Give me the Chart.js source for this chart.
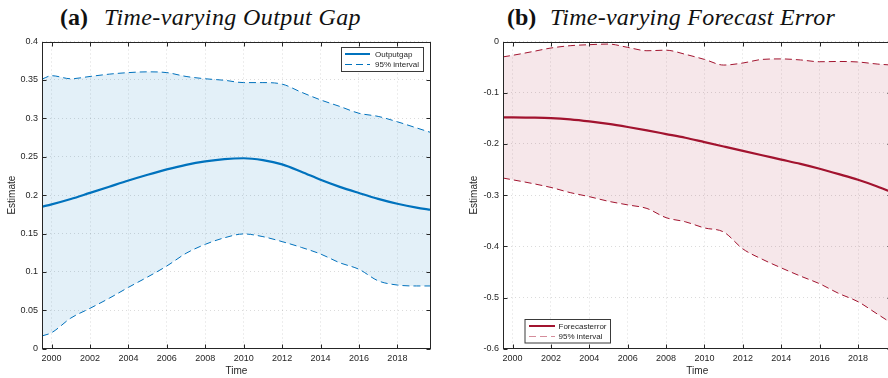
<!DOCTYPE html>
<html>
<head>
<meta charset="utf-8">
<script src="https://cdn.jsdelivr.net/npm/chart.js@4/dist/chart.umd.min.js"></script>
<style>
  html, body { margin: 0; padding: 0; background: #fff; }
  body { position: relative; width: 888px; height: 378px; overflow: hidden; }
  .lbl { position: absolute; top: 5px; font-family: "Liberation Serif", "DejaVu Serif", serif;
         font-size: 24px; line-height: 24px; color: #111; white-space: nowrap; }
  .lbl.b { font-weight: bold; }
  .lbl.i { font-style: italic; }
  canvas { position: absolute; top: 0; }
</style>
</head>
<body>
<div class="lbl b" style="left:60px">(a)</div>
<div class="lbl i" id="titleA" style="left:104px" data-w="257">Time-varying Output Gap</div>
<div class="lbl b" style="left:507px">(b)</div>
<div class="lbl i" id="titleB" style="left:550px" data-w="285">Time-varying Forecast Error</div>
<canvas id="chartA" width="444" height="378" style="left:0"></canvas>
<canvas id="chartB" width="460" height="378" style="left:444px"></canvas>
<script>
// Sample dates (fractional years)
const years = [1999.5, 2000, 2001, 2002, 2003, 2004, 2005, 2006, 2007, 2008, 2009,
               2010, 2011, 2012, 2013, 2014, 2015, 2016, 2017, 2018, 2019, 2019.75];

// Panel (a): output gap estimate and 95% band
const outputGap = [0.185, 0.188, 0.195, 0.203, 0.211, 0.219, 0.2265, 0.2335, 0.2395, 0.2440, 0.2470,
                   0.2480, 0.2455, 0.2400, 0.2305, 0.2200, 0.2108, 0.2028, 0.1952, 0.1888, 0.1838, 0.1810];
const gapUpper  = [0.351, 0.3555, 0.3515, 0.3545, 0.3575, 0.3595, 0.3605, 0.3595, 0.3545, 0.3515, 0.3495,
                   0.3465, 0.3465, 0.3445, 0.3340, 0.3240, 0.3155, 0.3066, 0.3025, 0.2955, 0.2875, 0.2815];
const gapLower  = [0.0167, 0.021, 0.040, 0.0527, 0.0658, 0.080, 0.0935, 0.1078, 0.1243, 0.136, 0.1445,
                   0.1495, 0.146, 0.1395, 0.132, 0.1234, 0.112, 0.1035, 0.0885, 0.083, 0.0818, 0.0818];

// Panel (b): forecast error estimate and 95% band
const forecastError = [-0.148, -0.148, -0.1485, -0.1495, -0.152, -0.156, -0.161, -0.167, -0.1735, -0.1807, -0.188,
                       -0.1965, -0.205, -0.2135, -0.222, -0.2305, -0.239, -0.2485, -0.259, -0.270, -0.283, -0.294];
const errUpper = [-0.030, -0.027, -0.020, -0.0127, -0.0082, -0.0062, -0.005, -0.0115, -0.018, -0.017, -0.025,
                  -0.035, -0.046, -0.042, -0.035, -0.034, -0.036, -0.0395, -0.039, -0.040, -0.044, -0.046];
const errLower = [-0.2666, -0.270, -0.277, -0.285, -0.295, -0.303, -0.312, -0.319, -0.326, -0.344, -0.352,
                  -0.364, -0.372, -0.405, -0.425, -0.442, -0.458, -0.473, -0.492, -0.508, -0.532, -0.550];

// Tick labels
const yearTicks = [2000, 2002, 2004, 2006, 2008, 2010, 2012, 2014, 2016, 2018];
const gapTicks  = [0, 0.05, 0.1, 0.15, 0.2, 0.25, 0.3, 0.35, 0.4];
const errTicks  = [-0.6, -0.5, -0.4, -0.3, -0.2, -0.1, 0];

// Fit the italic titles to their typeset width
document.querySelectorAll('.lbl.i').forEach(el => {
  const target = +el.dataset.w;
  const w = el.getBoundingClientRect().width;
  const n = el.textContent.length;
  el.style.letterSpacing = ((target - w) / n).toFixed(3) + 'px';
});

const INK = '#262626';
const pts = vals => vals.map((v, i) => ({ x: years[i], y: v }));

// Box, inward tick marks, axis titles and legend in MATLAB style
const framePlugin = {
  id: 'frame',
  afterDraw(chart, args, o) {
    const { ctx, chartArea: a, scales: { x, y } } = chart;
    ctx.save();
    ctx.strokeStyle = INK;
    ctx.lineWidth = 1;
    const L = Math.round(a.left) + 0.5, R = Math.round(a.right) - 0.5;
    const T = Math.round(a.top) + 0.5, B = Math.round(a.bottom) - 0.5;
    ctx.strokeRect(L, T, R - L, B - T);
    ctx.beginPath();
    x.ticks.forEach(t => {
      const px = Math.round(x.getPixelForValue(t.value)) + 0.5;
      ctx.moveTo(px, B); ctx.lineTo(px, B - 4);
      ctx.moveTo(px, T); ctx.lineTo(px, T + 4);
    });
    y.ticks.forEach(t => {
      const py = Math.round(y.getPixelForValue(t.value)) + 0.5;
      ctx.moveTo(L, py); ctx.lineTo(L + 4, py);
      ctx.moveTo(R, py); ctx.lineTo(R - 4, py);
    });
    ctx.stroke();

    // axis titles
    ctx.fillStyle = INK;
    ctx.font = '10px "Liberation Sans", Arial, sans-serif';
    ctx.textAlign = 'center';
    ctx.textBaseline = 'middle';
    ctx.fillText(o.xTitle, (a.left + a.right) / 2, 371.5);
    ctx.save();
    ctx.translate(o.yTitleX, (a.top + a.bottom) / 2);
    ctx.rotate(-Math.PI / 2);
    ctx.fillText(o.yTitle, 0, 0);
    ctx.restore();

    // legend
    const lg = o.legend;
    ctx.fillStyle = '#fff';
    ctx.fillRect(lg.x, lg.y, lg.w, lg.h);
    ctx.strokeStyle = '#3a3a3a';
    ctx.lineWidth = 1;
    ctx.strokeRect(lg.x + 0.5, lg.y + 0.5, lg.w - 1, lg.h - 1);
    ctx.font = '8px "Liberation Sans", Arial, sans-serif';
    ctx.textAlign = 'left';
    lg.items.forEach((it, i) => {
      const yy = lg.y + lg.rowY[i];
      ctx.strokeStyle = it.color;
      ctx.lineWidth = it.width;
      ctx.setLineDash(it.dash);
      ctx.beginPath();
      ctx.moveTo(lg.x + lg.lineX0, yy);
      ctx.lineTo(lg.x + lg.lineX1, yy);
      ctx.stroke();
      ctx.setLineDash([]);
      ctx.fillStyle = INK;
      ctx.fillText(it.label, lg.x + lg.textX, yy + 0.5);
    });
    ctx.restore();
  }
};

function makeChart(id, cfg) {
  const tickFont = { family: '"Liberation Sans", Arial, sans-serif', size: 9 };
  return new Chart(document.getElementById(id), {
    type: 'line',
    data: {
      datasets: [
        { label: '95% interval', data: pts(cfg.upper), borderColor: cfg.color, borderWidth: 1,
          borderDash: [7, 4], fill: '+1', backgroundColor: cfg.fill, pointRadius: 0,
          cubicInterpolationMode: 'monotone' },
        { label: '95% interval lower', data: pts(cfg.lower), borderColor: cfg.color, borderWidth: 1,
          borderDash: [7, 4], fill: false, pointRadius: 0, cubicInterpolationMode: 'monotone' },
        { label: cfg.name, data: pts(cfg.main), borderColor: cfg.color, borderWidth: 2.2,
          fill: false, pointRadius: 0, cubicInterpolationMode: 'monotone' }
      ]
    },
    options: {
      responsive: false,
      animation: false,
      devicePixelRatio: 1,
      layout: { padding: { top: 41.5, right: cfg.padRight, left: 0, bottom: 0 } },
      plugins: {
        legend: { display: false },
        tooltip: { enabled: false },
        frame: cfg.frame
      },
      scales: {
        x: {
          type: 'linear', min: 1999.5, max: 2019.75,
          afterBuildTicks: s => { s.ticks = yearTicks.map(v => ({ value: v })); },
          afterFit: s => { s.height = 29.2; },
          ticks: { color: INK, font: tickFont, padding: 4, maxRotation: 0, autoSkip: false,
                   callback: v => String(v) },
          grid: { color: 'rgba(0,0,0,0.14)', lineWidth: 1, drawTicks: false },
          border: { display: false, dash: [1, 3] }
        },
        y: {
          min: cfg.yMin, max: cfg.yMax,
          afterBuildTicks: s => { s.ticks = cfg.yTicks.map(v => ({ value: v })); },
          afterFit: s => { s.width = cfg.yWidth; },
          ticks: { color: INK, font: tickFont, padding: 4, autoSkip: false,
                   callback: v => String(Number(v.toFixed(2))) },
          grid: { color: 'rgba(0,0,0,0.14)', lineWidth: 1, drawTicks: false },
          border: { display: false, dash: [1, 3] }
        }
      }
    },
    plugins: [framePlugin]
  });
}

makeChart('chartA', {
  name: 'Outputgap', main: outputGap, upper: gapUpper, lower: gapLower,
  color: '#0072BD', fill: 'rgba(0,114,189,0.11)',
  yMin: 0, yMax: 0.4, yTicks: gapTicks, yWidth: 42, padRight: 13,
  frame: {
    xTitle: 'Time', yTitle: 'Estimate', yTitleX: 12.5,
    legend: { x: 341, y: 47, w: 83, h: 25, lineX0: 4, lineX1: 29, textX: 34, rowY: [7, 17.5],
      items: [
        { label: 'Outputgap', color: '#0072BD', width: 2, dash: [] },
        { label: '95% interval', color: '#0072BD', width: 1, dash: [7, 4] }
      ] }
  }
});

makeChart('chartB', {
  name: 'Forecasterror', main: forecastError, upper: errUpper, lower: errLower,
  color: '#A2142F', fill: 'rgba(162,20,47,0.10)',
  yMin: -0.6, yMax: 0, yTicks: errTicks, yWidth: 59, padRight: 12.4,
  frame: {
    xTitle: 'Time', yTitle: 'Estimate', yTitleX: 30.7,
    legend: { x: 80.5, y: 319, w: 86.5, h: 24.5, lineX0: 4.5, lineX1: 30.5, textX: 34, rowY: [7, 17.5],
      items: [
        { label: 'Forecasterror', color: '#A2142F', width: 2, dash: [] },
        { label: '95% interval', color: '#d58d9b', width: 1.2, dash: [7, 4] }
      ] }
  }
});
</script>
</body>
</html>
